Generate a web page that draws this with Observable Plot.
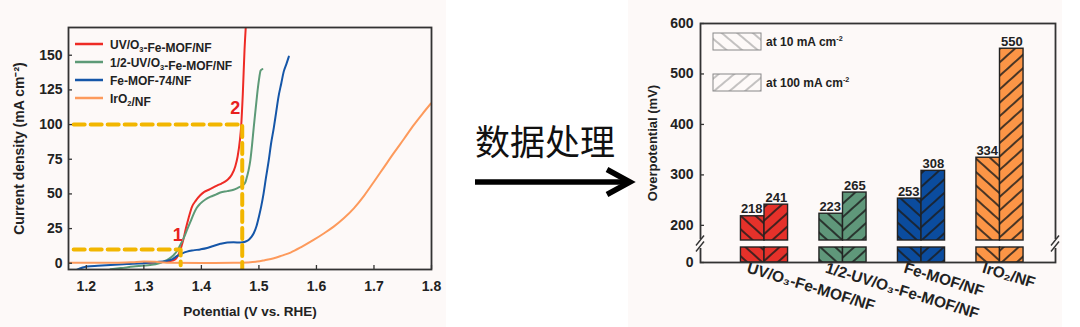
<!DOCTYPE html>
<html><head><meta charset="utf-8">
<script src="https://cdn.jsdelivr.net/npm/d3@7"></script>
<script src="https://cdn.jsdelivr.net/npm/@observablehq/plot@0.6"></script>
<style>
html,body{margin:0;padding:0;background:#fff;}
#wrap{position:relative;width:1080px;height:327px;overflow:hidden;}
#left{position:absolute;left:0;top:0;width:446px;height:327px;background:#fdf9f8;}
#right{position:absolute;left:628px;top:0;width:434px;height:327px;background:#fdf9f8;}
#mid{position:absolute;left:446px;top:0;width:190px;height:327px;overflow:visible;z-index:2;}
</style></head><body>
<svg width="0" height="0" style="position:absolute;left:0;top:0">
  <defs>
    <pattern id="hatchBack" patternUnits="userSpaceOnUse" width="10" height="10" patternTransform="rotate(42)">
      <line x1="-1" y1="5" x2="11" y2="5" stroke="#1c1c1c" stroke-width="1.6"/>
    </pattern>
    <pattern id="hatchFwd" patternUnits="userSpaceOnUse" width="10" height="10" patternTransform="rotate(-42)">
      <line x1="-1" y1="5" x2="11" y2="5" stroke="#1c1c1c" stroke-width="1.6"/>
    </pattern>
    <pattern id="legBack" patternUnits="userSpaceOnUse" width="10" height="10" patternTransform="rotate(40)">
      <line x1="-1" y1="5" x2="11" y2="5" stroke="#8a8a8a" stroke-width="1"/>
    </pattern>
    <pattern id="legFwd" patternUnits="userSpaceOnUse" width="10" height="10" patternTransform="rotate(-40)">
      <line x1="-1" y1="5" x2="11" y2="5" stroke="#8a8a8a" stroke-width="1"/>
    </pattern>
  </defs>
</svg>
<div id="wrap">
  <div id="left"></div>
  <div id="right"></div>
  <svg id="mid" width="190" height="327">
    <text x="29" y="155" font-family="'Noto Sans CJK SC', sans-serif" font-size="35" fill="#111">数据处理</text>
    <line x1="29" y1="182" x2="182" y2="182" stroke="#000" stroke-width="5.5"/>
    <polyline points="161,169.5 184,182 161,194.5" fill="none" stroke="#000" stroke-width="5.5" stroke-linejoin="miter"/>
  </svg>
</div>
<script>
// ---------------- LEFT PANEL DATA (LSV curves) ----------------
const seriesNames = ["UV/O_3-Fe-MOF/NF", "1/2-UV/O_3-Fe-MOF/NF", "Fe-MOF-74/NF", "IrO_2/NF"];
const seriesColors = ["#ee2b25", "#5d9a77", "#1556a8", "#fd9a5c"];

const potUV = [1.30, 1.33, 1.345, 1.355, 1.362, 1.368, 1.373, 1.378, 1.384, 1.39, 1.398, 1.405, 1.413, 1.42, 1.427, 1.435, 1.445, 1.453, 1.459, 1.463, 1.467, 1.469, 1.472, 1.475, 1.478];
const jUV   = [0.3, 0.8, 1.5, 3, 8, 16, 25, 33, 41, 45, 49, 51.5, 53, 54.5, 56, 57.5, 60, 64, 70, 77, 89, 98, 122, 154, 176];

const potHalf = [1.242, 1.26, 1.282, 1.30, 1.311, 1.325, 1.334, 1.343, 1.352, 1.358, 1.363, 1.369, 1.375, 1.381, 1.387, 1.392, 1.398, 1.407, 1.416, 1.425, 1.433, 1.445, 1.456, 1.464, 1.471, 1.476, 1.479, 1.482, 1.485, 1.488, 1.491, 1.494, 1.497, 1.500, 1.503, 1.506];
const jHalf   = [-4.3, -3.5, -2.4, -1.7, -1.2, -0.2, 1.2, 3, 6, 9, 13, 18, 24, 30, 36, 40, 43, 46, 48, 49.5, 51, 52, 53, 54.5, 56, 58, 62, 67, 74, 85, 98, 110, 122, 132, 139, 140];

const potFe = [1.183, 1.201, 1.22, 1.242, 1.27, 1.30, 1.32, 1.34, 1.35, 1.358, 1.366, 1.375, 1.386, 1.398, 1.41, 1.421, 1.433, 1.445, 1.456, 1.468, 1.476, 1.482, 1.487, 1.491, 1.496, 1.50, 1.504, 1.508, 1.512, 1.517, 1.521, 1.526, 1.530, 1.534, 1.539, 1.543, 1.548, 1.552];
const jFe   = [-4.8, -2.4, -1.8, -1.2, -0.6, 0, 0.8, 1.7, 3, 5.3, 7, 8.4, 9.3, 10, 11, 12.5, 14, 15, 15.2, 14.9, 15.5, 16.8, 19, 21.6, 27, 33.6, 41, 50, 61, 74, 86, 98, 109, 120, 130, 138, 144, 149];

const potIr = [1.169, 1.2, 1.25, 1.28, 1.30, 1.32, 1.34, 1.40, 1.456, 1.48, 1.497, 1.51, 1.526, 1.54, 1.555, 1.575, 1.595, 1.612, 1.630, 1.648, 1.665, 1.683, 1.700, 1.717, 1.734, 1.752, 1.769, 1.784, 1.799];
const jIr   = [0.3, 0.3, 0.4, 0.8, 1.2, 1.0, 0.4, 0.2, 0.3, 0.6, 1.2, 2.2, 3.6, 5.5, 7.7, 12, 16.8, 21.3, 26.4, 32.6, 39.6, 48.8, 58.8, 69, 79.2, 89.6, 99.6, 107.6, 115.2];

const guidePot10  = [1.178, 1.364, 1.364];
const guideJ10    = [10, 10, -1.5];
const guidePot100 = [1.178, 1.471, 1.471];
const guideJ100   = [100, 100, -4.5];

const markLabels = ["1", "2"];
const markPot    = [1.359, 1.459];
const markJ      = [20.5, 111.7];

const xTicksL = [1.2, 1.3, 1.4, 1.5, 1.6, 1.7, 1.8];
const yTicksL = [0, 25, 50, 75, 100, 125, 150];

// ---------------- RIGHT PANEL DATA (overpotentials) ----------------
const categories = ["UV/O₃-Fe-MOF/NF", "1/2-UV/O₃-Fe-MOF/NF", "Fe-MOF/NF", "IrO₂/NF"];
const eta10  = [218, 223, 253, 334];
const eta100 = [241, 265, 308, 550];
const barColors = ["#e5312a", "#5f977a", "#0b4c9e", "#fc9546"];
const yTicksR = [0, 200, 300, 400, 500, 600];
const yBreak = [40, 170]; // top of lower stub, bottom of upper segment (mV)
const legendLabels = ["at 10 mA cm^-2", "at 100 mA cm^-2"];

const FONT = "'Liberation Sans', Arial, Helvetica, sans-serif";

// helper to write text with _x subscripts / ^x superscripts as tspans
function richText(sel, str, size) {
  const parts = str.split(/(_[0-9]+|\^-?[0-9]+)/).filter(s => s.length);
  parts.forEach(p => {
    if (p[0] === "_") {
      sel.append("tspan").attr("font-size", size * 0.62).attr("dy", size * 0.3).text(p.slice(1));
      sel.append("tspan").attr("dy", -size * 0.3).text("");
    } else if (p[0] === "^") {
      sel.append("tspan").attr("font-size", size * 0.6).attr("dy", -size * 0.4).text(p.slice(1));
      sel.append("tspan").attr("dy", size * 0.4).text("");
    } else sel.append("tspan").text(p);
  });
}

// ---------------- LEFT PLOT ----------------
const mk = (xs, ys) => xs.map((x, i) => ({x, y: ys[i]}));
const curves = [mk(potUV, jUV), mk(potHalf, jHalf), mk(potFe, jFe), mk(potIr, jIr)];
const LW = 446, LH = 327, LML = 68, LMR = 15, LMT = 27, LMB = 58;

const leftPlot = Plot.plot({
  width: LW, height: LH,
  marginLeft: LML, marginRight: LMR, marginTop: LMT, marginBottom: LMB,
  style: {background: "none", fontFamily: FONT, fontWeight: "bold", fontSize: "14px", color: "#222", overflow: "visible"},
  x: {domain: [1.169, 1.8]},
  y: {domain: [-4.5, 170]},
  marks: [
    ...curves.map((c, i) => Plot.line(c, {x: "x", y: "y", stroke: seriesColors[i], strokeWidth: 2, clip: true, curve: "monotone-x"})),
    Plot.line(mk(guidePot10, guideJ10), {x: "x", y: "y", stroke: "#f2b600", strokeWidth: 4, strokeDasharray: "11,6", clip: true}),
    Plot.line(mk(guidePot100, guideJ100), {x: "x", y: "y", stroke: "#f2b600", strokeWidth: 4, strokeDasharray: "11,6", clip: true}),
    Plot.text(markLabels, {x: markPot, y: markJ, text: d => d, fill: "#e8211d", fontSize: 18, fontWeight: "bold"}),
    Plot.tickY(yTicksL, {y: d => d, insetRight: LW - LML - LMR - 4, stroke: "#333", strokeWidth: 1.3}),
    Plot.tickX(xTicksL, {x: d => d, insetTop: LH - LMT - LMB - 4, stroke: "#333", strokeWidth: 1.3}),
    Plot.frame({stroke: "#333", strokeWidth: 1.8}),
    Plot.axisY({ticks: yTicksL, tickSize: 0, tickPadding: 6, label: null, fontSize: 14}),
    Plot.axisX({ticks: xTicksL, tickSize: 0, tickPadding: 12, tickFormat: ".1f", label: null, fontSize: 14}),
    Plot.text(["Current density (mA cm⁻²)"], {frameAnchor: "left", textAnchor: "middle", dx: -49, rotate: -90, fontSize: 14}),
    Plot.text(["Potential (V vs. RHE)"], {frameAnchor: "bottom", dy: 46, fontSize: 13.5})
  ]
});
document.getElementById("left").appendChild(leftPlot);

// left legend (inside frame)
{
  const svg = d3.select(leftPlot);
  const g = svg.append("g").attr("font-family", FONT).attr("font-weight", "bold").attr("font-size", 12)
    .attr("fill", "#222").attr("text-anchor", "start");
  const rowY = [44, 62, 80, 98];
  seriesNames.forEach((name, i) => {
    g.append("line").attr("x1", 75).attr("x2", 103).attr("y1", rowY[i]).attr("y2", rowY[i])
      .attr("stroke", seriesColors[i]).attr("stroke-width", 2.5);
    const t = g.append("text").attr("x", 110).attr("y", rowY[i] + 4.5).attr("text-anchor", "start");
    richText(t, name, 12);
  });
}

// ---------------- RIGHT PLOT ----------------
// broken axis: piecewise map from mV to display units (lower stub, gap, upper segment)
const brk = d3.scaleLinear().domain([0, yBreak[0], yBreak[1], 600]).range([0, 15, 22, 239]);
const rows = categories.map((c, i) => ({cat: c, e10: eta10[i], e100: eta100[i], color: barColors[i]}));
const RW = 434, RH = 327, RML = 72, RMR = 7, RMT = 23, RMB = 65;
const xRange = [96.75, 410.75];
const half = (xRange[1] - xRange[0]) / categories.length * 0.6 / 2;

const barPair = (lo, hi10, hi100) => [
  Plot.barY(rows, {x: "cat", y1: d => brk(lo), y2: d => brk(hi10(d)), fill: "color", insetRight: half}),
  Plot.barY(rows, {x: "cat", y1: d => brk(lo), y2: d => brk(hi10(d)), fill: "url(#hatchBack)", stroke: "#222", strokeWidth: 1.4, insetRight: half}),
  Plot.barY(rows, {x: "cat", y1: d => brk(lo), y2: d => brk(hi100(d)), fill: "color", insetLeft: half}),
  Plot.barY(rows, {x: "cat", y1: d => brk(lo), y2: d => brk(hi100(d)), fill: "url(#hatchFwd)", stroke: "#222", strokeWidth: 1.4, insetLeft: half})
];

const rightPlot = Plot.plot({
  width: RW, height: RH,
  marginLeft: RML, marginRight: RMR, marginTop: RMT, marginBottom: RMB,
  style: {background: "none", fontFamily: FONT, fontWeight: "bold", fontSize: "14px", color: "#222", overflow: "visible"},
  x: {domain: categories, range: xRange, paddingInner: 0.4, paddingOuter: 0.2, round: false},
  y: {domain: [brk(0), brk(600)]},
  color: {type: "identity"},
  marks: [
    ...barPair(0, () => yBreak[0], () => yBreak[0]),
    ...barPair(yBreak[1], d => d.e10, d => d.e100),
    Plot.text(rows, {x: "cat", y: d => brk(d.e10), text: d => String(d.e10), dx: -half / 2 - 1, dy: -3, lineAnchor: "bottom", fontSize: 13}),
    Plot.text(rows, {x: "cat", y: d => brk(d.e100), text: d => String(d.e100), dx: half / 2, dy: -3, lineAnchor: "bottom", fontSize: 13}),
    Plot.tickY(yTicksR, {y: d => brk(d), insetRight: RW - RML - RMR - 4, stroke: "#333", strokeWidth: 1.3}),
    Plot.frame({stroke: "#333", strokeWidth: 1.8}),
    Plot.axisY({ticks: yTicksR.map(brk), tickFormat: v => String(Math.round(brk.invert(v))), tickSize: 0, tickPadding: 7, label: null, fontSize: 14}),
    Plot.axisX({tickSize: 0, tickPadding: 5, tickRotate: 17, dx: -17, label: null, fontSize: 15.5}),
    Plot.text(["Overpotential (mV)"], {frameAnchor: "left", textAnchor: "middle", dx: -48, rotate: -90, fontSize: 13})
  ]
});
document.getElementById("right").appendChild(rightPlot);

// axis breaks + legend
{
  const svg = d3.select(rightPlot);
  const ys = rightPlot.scale("y");
  const yTop = ys.apply(brk(yBreak[1])), yBot = ys.apply(brk(yBreak[0]));
  const yMid = (yTop + yBot) / 2;
  const g = svg.append("g");
  [RML, RW - RMR].forEach(x => {
    g.append("rect").attr("x", x - 3).attr("y", yTop - 1).attr("width", 6).attr("height", yBot - yTop + 2).attr("fill", "#fdf9f8");
    [-3, 3].forEach(o => {
      g.append("line").attr("x1", x - 4).attr("y1", yMid + o + 5).attr("x2", x + 4).attr("y2", yMid + o - 5)
        .attr("stroke", "#333").attr("stroke-width", 1.4);
    });
  });
  const lg = svg.append("g").attr("font-family", FONT).attr("font-weight", "bold").attr("font-size", 12)
    .attr("fill", "#222").attr("text-anchor", "start");
  const boxY = [33, 74];
  ["url(#legBack)", "url(#legFwd)"].forEach((f, i) => {
    lg.append("rect").attr("x", 85).attr("y", boxY[i]).attr("width", 48).attr("height", 17)
      .attr("fill", f).attr("stroke", "#888").attr("stroke-width", 1);
    const t = lg.append("text").attr("x", 138).attr("y", boxY[i] + 13).attr("text-anchor", "start");
    richText(t, legendLabels[i], 12);
  });
}
</script>
</body></html>
